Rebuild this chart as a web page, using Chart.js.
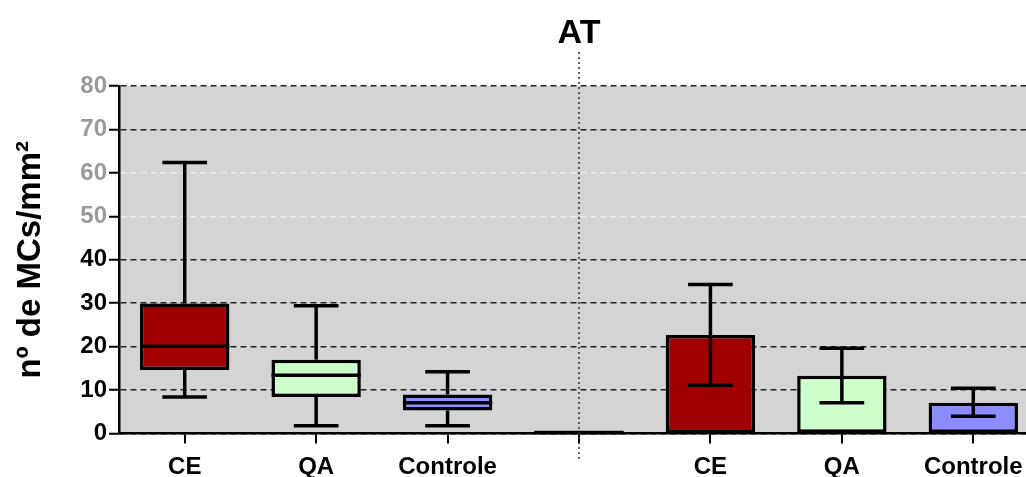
<!DOCTYPE html>
<html>
<head>
<meta charset="utf-8">
<script src="https://cdn.jsdelivr.net/npm/chart.js@4.4.1/dist/chart.umd.min.js"></script>
<style>
  html, body { margin: 0; padding: 0; background: #fff; overflow: hidden; }
  #wrap { width: 1040px; height: 477px; }
</style>
</head>
<body>
<div id="wrap"><canvas id="myChart"></canvas></div>
<script>
// categories (4th slot is the empty one between the two panels)
const labels = ['CE', 'QA', 'Controle', '', 'CE', 'QA', 'Controle'];

// box plots (left panel)
const boxMin    = [8.4, 1.8, 1.8];
const boxQ1     = [14.6, 8.4, 5.3];
const boxMedian = [20.1, 13.4, 7.1];
const boxQ3     = [29.9, 17.0, 9.0];
const boxMax    = [62.4, 29.4, 14.2];

// bars with error bars (right panel)
const barMean    = [22.7, 13.3, 7.1];
const barErrHigh = [34.3, 19.6, 10.4];
const barErrLow  = [11.1, 7.1, 4.0];

const groupColors = ['#A00000', '#CCFFCC', '#8C8CFF'];
const yMin = 0, yMax = 80, yStep = 10;

const FONT = "'Liberation Sans', Arial, sans-serif";

/* floating bars: boxes are [q1, q3], bars are [0, mean] */
const barData = boxQ1.map((q, i) => [q, boxQ3[i]])
  .concat([null])
  .concat(barMean.map(m => [0, m]));
const barColors = groupColors.concat(['rgba(0,0,0,0)']).concat(groupColors);

/* grey plot background */
const bgPlugin = {
  id: 'bg',
  beforeDraw(chart) {
    const {ctx, chartArea: a} = chart;
    ctx.save();
    ctx.fillStyle = '#D4D4D4';
    ctx.fillRect(a.left, a.top, a.right - a.left, a.bottom - a.top);
    ctx.restore();
  }
};

/* whiskers, medians, error bars */
const marksPlugin = {
  id: 'marks',
  afterDatasetsDraw(chart) {
    const {ctx} = chart;
    const ys = chart.scales.y;
    const meta = chart.getDatasetMeta(0);
    const line = (x1, y1, x2, y2) => {
      ctx.beginPath(); ctx.moveTo(x1, y1); ctx.lineTo(x2, y2); ctx.stroke();
    };
    ctx.save();
    ctx.strokeStyle = '#000';
    ctx.lineWidth = 3.5;

    boxMedian.forEach((med, i) => {
      const el = meta.data[i];
      const cx = el.x, w = el.width, cap = w / 4;
      line(cx, ys.getPixelForValue(boxQ3[i]), cx, ys.getPixelForValue(boxMax[i]));
      line(cx - cap, ys.getPixelForValue(boxMax[i]), cx + cap, ys.getPixelForValue(boxMax[i]));
      line(cx, ys.getPixelForValue(boxQ1[i]), cx, ys.getPixelForValue(boxMin[i]));
      line(cx - cap, ys.getPixelForValue(boxMin[i]), cx + cap, ys.getPixelForValue(boxMin[i]));
      line(cx - w / 2, ys.getPixelForValue(med), cx + w / 2, ys.getPixelForValue(med));
    });

    barMean.forEach((m, i) => {
      const el = meta.data[i + 4];
      const cx = el.x, cap = el.width / 4;
      const hi = ys.getPixelForValue(barErrHigh[i]);
      const lo = ys.getPixelForValue(barErrLow[i]);
      line(cx, hi, cx, lo);
      line(cx - cap, hi, cx + cap, hi);
      line(cx - cap, lo, cx + cap, lo);
    });

    // empty slot: flat line on zero
    const w0 = meta.data[0].width;
    const x3 = chart.scales.x.getPixelForValue(3);
    line(x3 - w0 / 2, ys.getPixelForValue(0) - 1, x3 + w0 / 2, ys.getPixelForValue(0) - 1);
    ctx.restore();
  },
  afterDraw(chart) {
    const {ctx} = chart;
    const x3 = chart.scales.x.getPixelForValue(3);
    ctx.save();
    ctx.strokeStyle = '#333';
    ctx.lineWidth = 1.5;
    ctx.setLineDash([2, 3]);
    ctx.beginPath(); ctx.moveTo(x3, 52); ctx.lineTo(x3, 462); ctx.stroke();
    ctx.setLineDash([]);
    ctx.fillStyle = '#000';
    ctx.font = 'bold 34px ' + FONT;
    ctx.textAlign = 'center';
    ctx.textBaseline = 'middle';
    ctx.fillText('AT', x3, 34);
    ctx.restore();
  }
};

new Chart(document.getElementById('myChart'), {
  type: 'bar',
  data: {
    labels: labels,
    datasets: [{
      data: barData,
      backgroundColor: barColors,
      borderColor: '#000',
      borderWidth: 3.5,
      borderSkipped: false,
      barPercentage: 0.68,
      categoryPercentage: 1
    }]
  },
  options: {
    responsive: true,
    maintainAspectRatio: false,
    animation: false,
    layout: { padding: { top: 86, left: 0, right: 1, bottom: 0 } },
    plugins: { legend: { display: false }, tooltip: { enabled: false }, title: { display: false } },
    scales: {
      x: {
        grid: { display: true, drawOnChartArea: false, offset: false, drawTicks: true,
                tickLength: 10, color: '#000', lineWidth: 2 },
        border: { color: '#000', width: 2.5 },
        ticks: { color: '#000', padding: 9, autoSkip: false, maxRotation: 0,
                 font: { family: FONT, weight: 'bold', size: 24 } },
        afterFit(s) { s.height = 43.5; }
      },
      y: {
        min: yMin, max: yMax,
        ticks: {
          stepSize: yStep, padding: 2,
          color: c => c.tick.value >= 50 ? '#9a9a9a' : '#000',
          font: { family: FONT, weight: 'bold', size: 24 }
        },
        grid: {
          color: c => (c.tick.value === 50 || c.tick.value === 60) ? '#eeeeee' : '#222',
          lineWidth: 1.5, drawTicks: true, tickLength: 10,
          tickColor: '#000', tickWidth: 2, tickBorderDash: []
        },
        border: { color: '#000', width: 2.5, dash: [6, 4] },
        title: {
          display: true, text: 'nº de MCs/mm²', color: '#000',
          font: { family: FONT, weight: 'bold', size: 33 },
          padding: { top: 11, bottom: 0 }
        },
        afterFit(s) { s.width = 119; }
      }
    }
  },
  plugins: [bgPlugin, marksPlugin]
});
</script>
</body>
</html>
